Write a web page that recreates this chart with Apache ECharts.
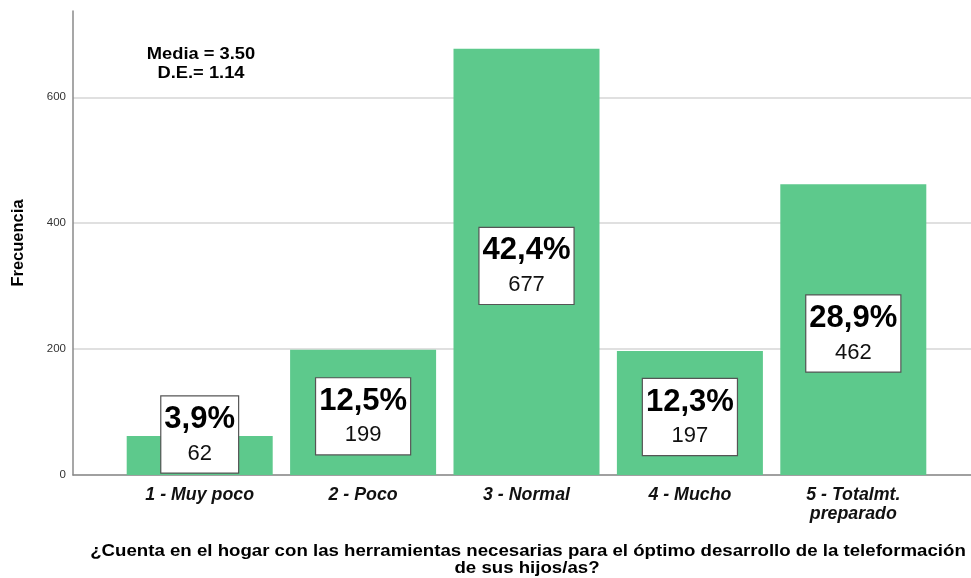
<!DOCTYPE html>
<html>
<head>
<meta charset="utf-8">
<script src="https://cdn.jsdelivr.net/npm/echarts@6/dist/echarts.min.js"></script>
<style>
  html, body { margin: 0; padding: 0; background: #fff; }
  #chart { width: 971px; height: 578px; }
</style>
</head>
<body>
<div id="chart"></div>
<script>
// Response categories and counts
const categories = ['1 - Muy poco', '2 - Poco', '3 - Normal', '4 - Mucho', '5 - Totalmt.\npreparado'];
const counts = [62, 199, 677, 197, 462];
const percents = ['3,9%', '12,5%', '42,4%', '12,3%', '28,9%'];
const yTicks = [0, 200, 400, 600];
const statsText = ['Media = 3.50', 'D.E.= 1.14'];
const xTitle = ['¿Cuenta en el hogar con las herramientas necesarias para el óptimo desarrollo de la teleformación', 'de sus hijos/as?'];

const FONT = '"Liberation Sans", Arial, sans-serif';
const Y_MAX = 737;
const BAR_COLOR = '#5dc98c';

const chart = echarts.init(document.getElementById('chart'));

const barData = counts.map((v) => {
  const item = { value: v };
  // keep the label box of a short bar above the baseline
  if (v < 120) item.label = { offset: [0, -21] };
  return item;
});

// one centred, slightly widened text line per graphic element
function textLine(str, x, y, size, sx) {
  return {
    type: 'text', x: x, y: y, scaleX: sx,
    style: {
      text: str, fontFamily: FONT, fontSize: size, fontWeight: 'bold',
      fill: '#000', align: 'center', verticalAlign: 'middle'
    }
  };
}

chart.setOption({
  animation: false,
  backgroundColor: '#fff',
  grid: [
    { left: 73, right: 0, top: 11, bottom: 103 },
    { left: 118, right: 36, top: 11, bottom: 103 }
  ],
  xAxis: [
    {
      gridIndex: 0, type: 'value', min: 0, max: 1,
      axisLine: { show: true, lineStyle: { color: '#8a8a8a', width: 1.5 } },
      axisTick: { show: false }, axisLabel: { show: false }, splitLine: { show: false }
    },
    {
      gridIndex: 1, type: 'category', data: categories,
      axisLine: { show: false }, axisTick: { show: false },
      axisLabel: {
        fontFamily: FONT, fontSize: 17.8, fontWeight: 'bold', fontStyle: 'italic',
        color: '#111', margin: 11, lineHeight: 19, interval: 0
      }
    }
  ],
  yAxis: [
    {
      gridIndex: 0, type: 'value', min: 0, max: Y_MAX, interval: 200,
      name: 'Frecuencia', nameLocation: 'middle', nameGap: 46, nameRotate: 90,
      nameTextStyle: { fontFamily: FONT, fontSize: 16.5, fontWeight: 'bold', color: '#000' },
      axisLine: { show: true, lineStyle: { color: '#8a8a8a', width: 1.5 } },
      axisTick: { show: false },
      axisLabel: {
        fontFamily: FONT, fontSize: 11.5, color: '#333', margin: 7,
        formatter: v => (yTicks.indexOf(v) >= 0 ? String(v) : '')
      },
      splitLine: {
        show: true,
        lineStyle: { color: ['#d6d6d6', '#d6d6d6', '#d6d6d6', '#d6d6d6', 'rgba(0,0,0,0)'], width: 1.5 }
      }
    },
    {
      gridIndex: 1, type: 'value', min: 0, max: Y_MAX, show: false
    }
  ],
  series: [
    {
      type: 'bar', xAxisIndex: 1, yAxisIndex: 1,
      data: barData, barWidth: 146,
      itemStyle: { color: BAR_COLOR },
      label: {
        show: true, position: 'inside',
        offset: [0, 4],
        backgroundColor: '#fff', borderColor: '#555', borderWidth: 1.2,
        padding: [4, 3, 4, 3],
        formatter: p => '{p|' + percents[p.dataIndex] + '}\n{n|' + p.value + '}',
        rich: {
          p: { fontFamily: FONT, fontSize: 31, fontWeight: 'bold', color: '#000', lineHeight: 38, align: 'center' },
          n: { fontFamily: FONT, fontSize: 22, color: '#111', lineHeight: 30, align: 'center' }
        }
      }
    }
  ],
  graphic: [
    textLine(statsText[0], 201, 54, 16.5, 1.11),
    textLine(statsText[1], 201, 73, 16.5, 1.11),
    textLine(xTitle[0], 528, 551, 16.5, 1.13),
    textLine(xTitle[1], 527, 568, 16.5, 1.13)
  ]
});
</script>
</body>
</html>
